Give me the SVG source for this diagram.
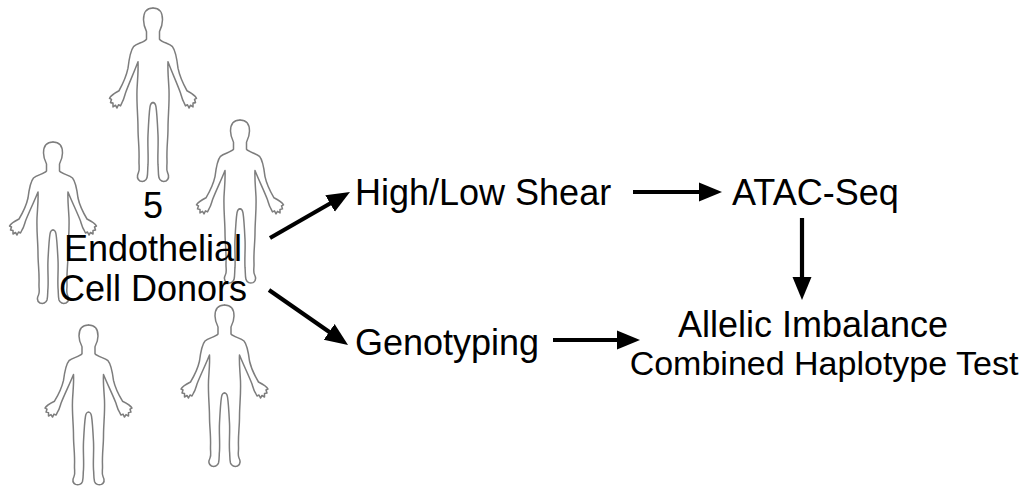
<svg xmlns="http://www.w3.org/2000/svg" xmlns:xlink="http://www.w3.org/1999/xlink" width="1031" height="491" viewBox="0 0 1031 491">
  <style>
    .label { font-family: "Liberation Sans", Arial, Helvetica, sans-serif; font-size: 36px; fill: #000; }
    .mid { text-anchor: middle; }
    .body { fill: none; stroke: #7d7d7d; stroke-width: 1.5; stroke-linejoin: round; stroke-linecap: round; }
    .conn { stroke: #000; stroke-width: 4.2; fill: none; marker-end: url(#head); }
  </style>
  <defs>
    <marker id="head" markerUnits="userSpaceOnUse" markerWidth="26" markerHeight="22" viewBox="0 -11 26 22" refX="2" refY="0" orient="auto">
      <path d="M0,-9.5 L23,0 L0,9.5 z" fill="#000"/>
    </marker>
    <!-- half outline of a standing person, head top at (0,0), feet near y=161 -->
    <path id="half" d="M0,0 C6,0 9.5,4 9.5,11 C9.5,16 8,19 6.5,22 L6.5,29 C9,32 16,33 19.5,36 C23,40 24,48 25,56 C27,65 31,72 34,77 C38,79 42,81 43.5,84 L41.5,85 L42.5,88 L40,88.5 L40,92 L37.5,90.5 L36,93 L34.5,90 L32.5,91 L31,88 C29,85 28.5,82 27.5,79 C24,70 19,60 15,50 C14.5,58 15.5,66 16,76 C16.5,90 15,100 15,112 C15,122 13.5,130 14,142 C14.2,147 13,150 14.5,153 C16,156 16.5,159 13,161 C10,162 7,161 6,158 C5,154 5.5,150 5,146 C4.5,136 5.5,128 5,118 C4.5,108 4,98 3,92 C2.5,89 1,88 0,88"/>
    <g id="person">
      <use xlink:href="#half" class="body"/>
      <use xlink:href="#half" class="body" transform="scale(-1,1)"/>
    </g>
  </defs>

  <!-- donor figures -->
  <g id="donor-1"><use xlink:href="#person" transform="translate(153,8) scale(1,1.075)"/></g>
  <g id="donor-2"><use xlink:href="#person" transform="translate(53,142)"/></g>
  <g id="donor-3"><use xlink:href="#person" transform="translate(240,120) scale(1,1.01)"/></g>
  <g id="donor-4"><use xlink:href="#person" transform="translate(88.5,325) scale(1,0.99)"/></g>
  <g id="donor-5"><use xlink:href="#person" transform="translate(224.5,305)"/></g>

  <!-- connectors -->
  <g id="connectors">
    <line class="conn" x1="270" y1="238" x2="331.8" y2="202.5"/>
    <line class="conn" x1="269" y1="290" x2="330.8" y2="333"/>
    <line class="conn" x1="633" y1="192" x2="701" y2="192"/>
    <line class="conn" x1="802" y1="218" x2="802" y2="279"/>
    <line class="conn" x1="553" y1="340" x2="619" y2="340"/>
  </g>

  <!-- nodes -->
  <g id="donors">
    <text class="label mid" x="153" y="218">5</text>
    <text class="label mid" x="153" y="261">Endothelial</text>
    <text class="label mid" x="153" y="301">Cell Donors</text>
  </g>
  <g id="shear">
    <text class="label" x="355" y="205">High/Low Shear</text>
  </g>
  <g id="atac">
    <text class="label" x="732" y="205">ATAC-Seq</text>
  </g>
  <g id="genotyping">
    <text class="label" x="355" y="355">Genotyping</text>
  </g>
  <g id="imbalance">
    <text class="label mid" x="813" y="337">Allelic Imbalance</text>
    <text class="label mid" x="824" y="375" style="font-size:34px">Combined Haplotype Test</text>
  </g>
</svg>
